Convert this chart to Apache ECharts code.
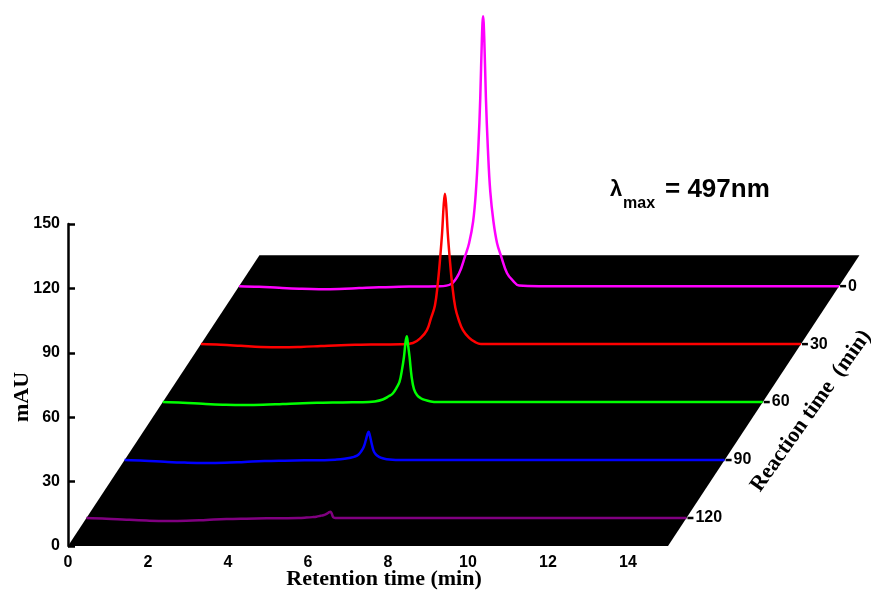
<!DOCTYPE html>
<html>
<head>
<meta charset="utf-8">
<script src="https://cdn.jsdelivr.net/npm/echarts@6/dist/echarts.min.js"></script>
<style>
  html, body { margin: 0; padding: 0; background: #fff; }
  #chart { width: 871px; height: 592px; }
</style>
</head>
<body>
<div id="chart"></div>
<script>
// retention time grid (min), shared by every chromatogram
const retention = [0, 0.5, 1, 1.5, 2, 2.5, 3, 3.5, 4, 4.5, 5,
  5.3, 5.5, 5.65, 5.75, 5.85, 5.92, 5.98, 6.03, 6.07, 6.1, 6.13, 6.17, 6.22, 6.28, 6.36, 6.45, 6.55, 6.7, 6.85, 7,
  7.5, 8, 9, 10, 11, 12, 13, 14, 15];

// reaction time (min) of each trace, back row first
const reactionTimes = [0, 30, 60, 90, 120];
const traceColors = ['#ff00ff', '#ff0000', '#00ff00', '#0000ff', '#800080'];

// absorbance (mAU)
const mau0 = [0, -0.3, -0.8, -1.2, -1.4, -1.3, -0.9, -0.5, -0.3, -0.15, -0.1,
  1.0, 6, 14, 20, 30, 44, 64, 88, 115, 125.7, 115, 88, 64, 44, 30, 20, 14, 6, 2.5, 0.3,
  0, 0, 0, 0, 0, 0, 0, 0, 0];
const mau30 = [0, -0.3, -0.8, -1.3, -1.5, -1.3, -0.9, -0.5, -0.3, -0.15, -0.1,
  0.5, 3, 6.5, 12, 18, 28, 40, 52, 65, 70, 65, 52, 40, 28, 17, 11, 6.5, 3, 1, 0,
  0, 0, 0, 0, 0, 0, 0, 0, 0];
const mau60 = [0, -0.3, -0.8, -1.2, -1.4, -1.3, -0.9, -0.5, -0.3, -0.15, -0.1,
  0.3, 1.2, 2.7, 4, 6.8, 9.5, 15, 21, 28, 30.7, 27, 21, 12, 6, 3.2, 1.8, 1.0, 0.3, 0, 0,
  0, 0, 0, 0, 0, 0, 0, 0, 0];
const mau90 = [0, -0.3, -0.8, -1.2, -1.4, -1.3, -0.9, -0.5, -0.3, -0.15, -0.1,
  0.2, 0.6, 1.1, 1.6, 2.6, 4.2, 6.2, 9.2, 12, 13.2, 11.5, 8.2, 4.5, 2.6, 1.5, 0.8, 0.4, 0.1, 0, 0,
  0, 0, 0, 0, 0, 0, 0, 0, 0];
const mau120 = [0, -0.3, -0.8, -1.2, -1.4, -1.3, -0.9, -0.5, -0.3, -0.15, -0.1,
  0, 0.2, 0.4, 0.6, 1.0, 1.3, 1.7, 2.2, 2.7, 2.9, 2.2, 0.3, 0, 0, 0, 0, 0, 0, 0, 0,
  0, 0, 0, 0, 0, 0, 0, 0, 0];
const traces = [mau0, mau30, mau60, mau90, mau120];

const xTicks = [0, 2, 4, 6, 8, 10, 12, 14];
const yTicks = [0, 30, 60, 90, 120, 150];

// pseudo-3D: the reaction-time axis runs back and up on the same cartesian grid
const depthFront = 134.5, depthBack = -16;
const skewX = 0.0318; // retention min per reaction min
const skewY = 0.9;    // mAU per reaction min
const project = (t, v, r) => [t + (depthFront - r) * skewX, v + (depthFront - r) * skewY];

const gridTop = 224, gridBottom = 46, chartH = 592;
const yMax = 150;
const plotH = chartH - gridTop - gridBottom;
// pixel row of the floor's back edge, used to stop the hidden-line fill there
const backPx = gridTop + plotH * (1 - project(0, 0, depthBack)[1] / yMax);
const hideFill = {
  type: 'linear', x: 0, y: 0, x2: 0, y2: chartH, global: true,
  colorStops: [
    { offset: 0, color: 'rgba(0,0,0,0)' },
    { offset: backPx / chartH, color: 'rgba(0,0,0,0)' },
    { offset: backPx / chartH, color: '#000' },
    { offset: 1, color: '#000' }
  ]
};

const floor = [
  project(0, 0, depthFront), project(15, 0, depthFront),
  project(15, 0, depthBack), project(0, 0, depthBack)
];

const tickFont = { fontFamily: 'Liberation Sans, Arial', fontWeight: 'bold', fontSize: 16, color: '#000' };
const titleFont = 'bold 22px "Liberation Serif", "Times New Roman", serif';

const chart = echarts.init(document.getElementById('chart'));

const series = [{
  type: 'custom',
  silent: true,
  z: 1,
  data: [0],
  renderItem: (params, api) => ({
    type: 'polygon',
    shape: { points: floor.map(p => api.coord(p)) },
    style: { fill: '#000' }
  })
}];

traces.forEach((vals, i) => {
  const r = reactionTimes[i];
  series.push({
    type: 'line',
    name: String(r),
    z: 2,
    clip: false,
    smooth: 0.4,
    symbol: 'none',
    lineStyle: { color: traceColors[i], width: 2.5 },
    areaStyle: { color: hideFill, opacity: 1, origin: project(0, 0, r)[1] },
    data: retention.map((t, k) => project(t, vals[k], r))
  });
});

// reaction-time axis ticks and labels along the right edge of the floor
series.push({
  type: 'scatter',
  z: 3,
  clip: false,
  symbol: 'rect',
  symbolSize: [6, 2.5],
  symbolOffset: [4, 0],
  itemStyle: { color: '#000', opacity: 1 },
  label: {
    show: true, position: 'right', distance: 2,
    formatter: p => String(reactionTimes[p.dataIndex]),
    ...tickFont
  },
  data: reactionTimes.map(r => project(15, 0, r))
});

chart.setOption({
  animation: false,
  backgroundColor: '#fff',
  grid: { left: 68, right: 3, top: gridTop, bottom: gridBottom },
  xAxis: {
    type: 'value', min: 0, max: 20,
    axisLine: { show: false },
    axisTick: { show: false },
    splitLine: { show: false },
    axisLabel: { customValues: xTicks, margin: 9, ...tickFont }
  },
  yAxis: {
    type: 'value', min: 0, max: yMax, interval: 30,
    axisLine: { show: true, lineStyle: { color: '#000', width: 2.5 } },
    axisTick: { show: true, inside: true, length: 7, lineStyle: { color: '#000', width: 2.5 } },
    splitLine: { show: false },
    axisLabel: { customValues: yTicks, margin: 8, ...tickFont }
  },
  graphic: [
    { type: 'text', x: 384, y: 579, style: { text: 'Retention time (min)', font: titleFont, fill: '#000', align: 'center', verticalAlign: 'middle' } },
    { type: 'text', x: 22, y: 397, rotation: Math.PI / 2, style: { text: 'mAU', font: titleFont, fill: '#000', align: 'center', verticalAlign: 'middle' } },
    { type: 'text', x: 811, y: 411, rotation: 0.955, style: { text: 'Reaction time  (min)', font: titleFont, fill: '#000', align: 'center', verticalAlign: 'middle' } },
    { type: 'text', x: 610, y: 190, style: { text: 'λ', font: 'bold 22px "Liberation Sans", Arial', fill: '#000', verticalAlign: 'middle' } },
    { type: 'text', x: 623, y: 204, style: { text: 'max', font: 'bold 16px "Liberation Sans", Arial', fill: '#000', verticalAlign: 'middle' } },
    { type: 'text', x: 665, y: 190, style: { text: '= 497nm', font: 'bold 26px "Liberation Sans", Arial', fill: '#000', verticalAlign: 'middle' } }
  ],
  series
});
</script>
</body>
</html>
